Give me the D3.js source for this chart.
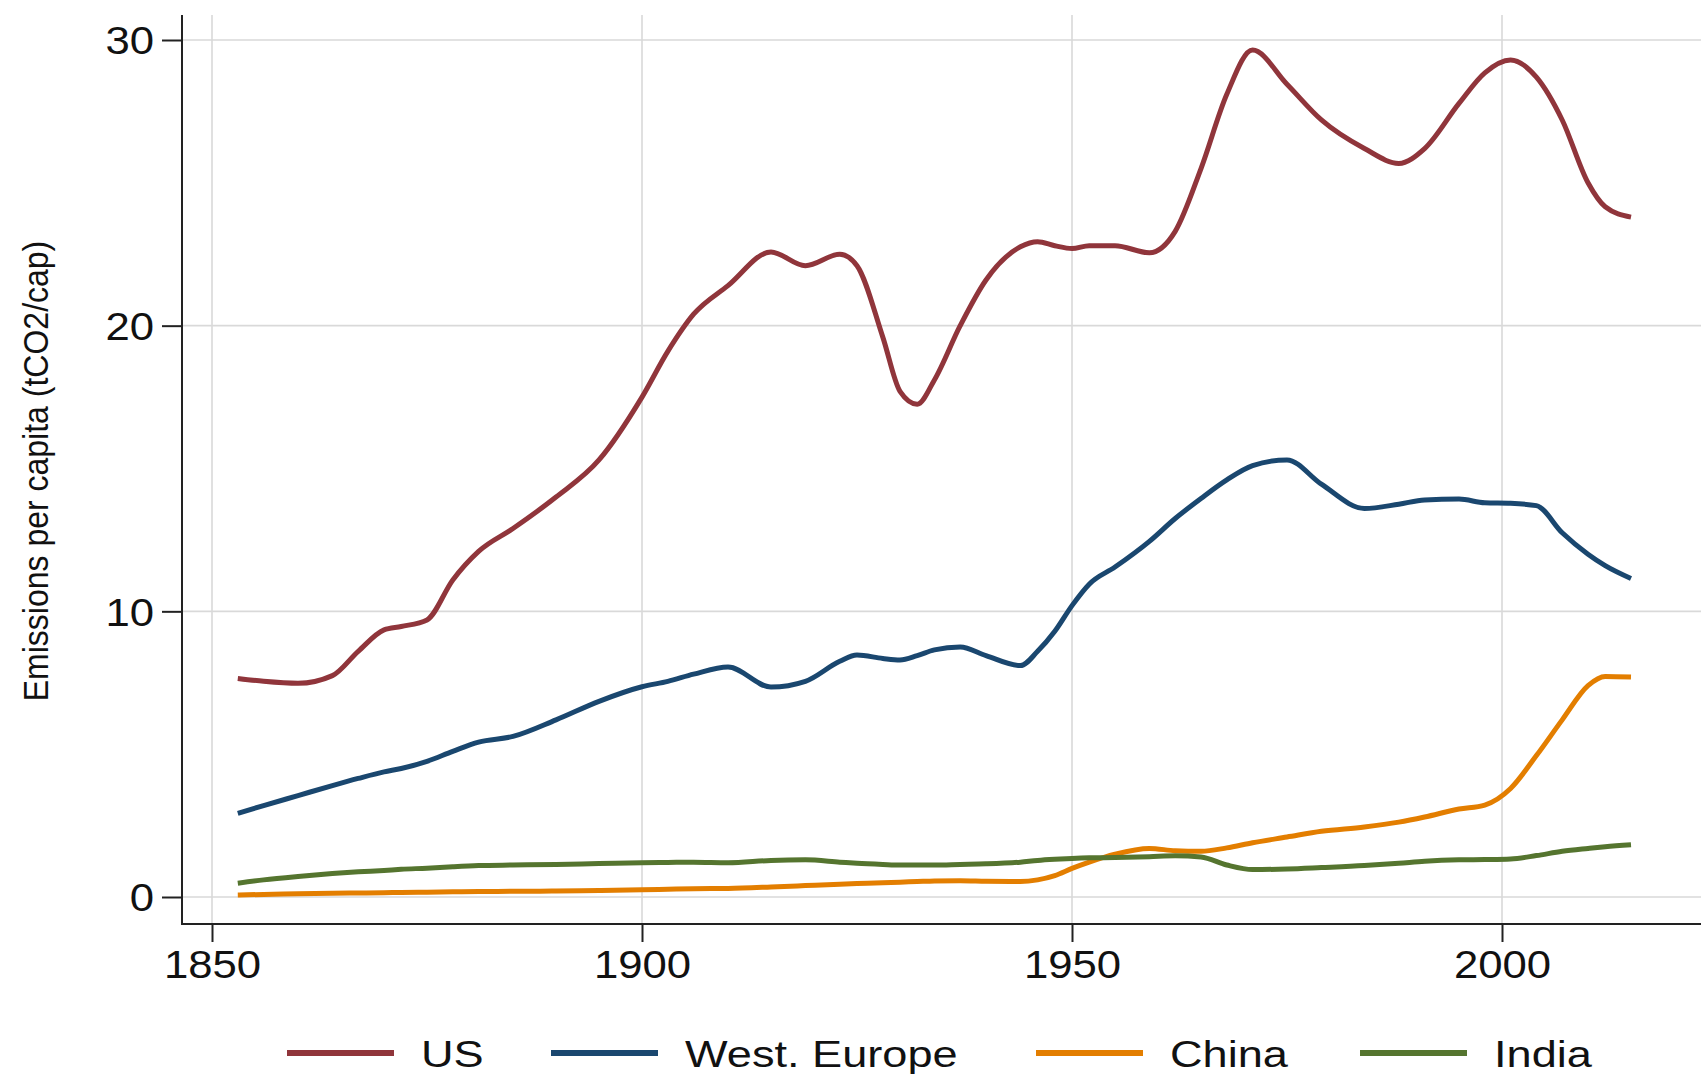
<!DOCTYPE html>
<html>
<head>
<meta charset="utf-8">
<script src="https://cdn.jsdelivr.net/npm/d3@7"></script>
<style>
  html, body { margin: 0; padding: 0; background: #fff; }
  svg { display: block; }
  text { font-family: "Liberation Sans", Arial, Helvetica, sans-serif; fill: #111; }
</style>
</head>
<body>
<svg id="chart" width="1701" height="1074"></svg>
<script>
// ---- data ----
const years = [1853, 1856, 1860, 1864, 1867, 1870, 1872, 1875, 1878, 1881, 1885, 1890, 1895, 1900, 1903, 1906, 1910, 1915, 1919, 1923, 1925, 1928, 1930, 1932, 1934, 1937, 1940, 1944, 1946, 1948, 1950, 1952, 1955, 1959, 1962, 1965, 1968, 1971, 1975, 1979, 1984, 1988, 1991, 1995, 1998, 2001, 2004, 2007, 2010, 2012, 2015];

const usValues = [7.65, 7.55, 7.48, 7.75, 8.6, 9.35, 9.47, 9.7, 11.1, 12.1, 12.9, 14.0, 15.3, 17.5, 19.1, 20.4, 21.4, 22.58, 22.1, 22.5, 22.1, 19.6, 17.7, 17.25, 18.1, 20.0, 21.6, 22.76, 22.94, 22.8, 22.7, 22.8, 22.8, 22.55, 23.3, 25.5, 28.1, 29.65, 28.45, 27.2, 26.2, 25.68, 26.2, 27.78, 28.85, 29.3, 28.7, 27.2, 25.0, 24.16, 23.8];

const westEuropeValues = [2.93, 3.2, 3.55, 3.9, 4.15, 4.38, 4.5, 4.75, 5.1, 5.42, 5.62, 6.2, 6.85, 7.36, 7.55, 7.8, 8.05, 7.35, 7.55, 8.25, 8.47, 8.35, 8.3, 8.45, 8.65, 8.75, 8.45, 8.1, 8.6, 9.3, 10.2, 10.95, 11.55, 12.45, 13.25, 13.95, 14.6, 15.1, 15.3, 14.45, 13.6, 13.75, 13.9, 13.93, 13.8, 13.78, 13.7, 12.75, 12.0, 11.6, 11.15];

const chinaValues = [0.07, 0.09, 0.11, 0.13, 0.14, 0.15, 0.16, 0.17, 0.18, 0.19, 0.2, 0.21, 0.23, 0.25, 0.27, 0.29, 0.3, 0.35, 0.4, 0.45, 0.47, 0.5, 0.52, 0.54, 0.56, 0.57, 0.55, 0.54, 0.6, 0.75, 1.0, 1.22, 1.5, 1.7, 1.62, 1.6, 1.72, 1.9, 2.1, 2.3, 2.45, 2.62, 2.8, 3.08, 3.22, 3.8, 4.95, 6.2, 7.4, 7.72, 7.7];

const indiaValues = [0.48, 0.6, 0.72, 0.82, 0.88, 0.93, 0.97, 1.01, 1.06, 1.1, 1.12, 1.14, 1.17, 1.2, 1.21, 1.22, 1.2, 1.28, 1.3, 1.22, 1.18, 1.14, 1.12, 1.12, 1.12, 1.14, 1.16, 1.22, 1.28, 1.32, 1.35, 1.37, 1.38, 1.41, 1.44, 1.4, 1.12, 0.96, 0.98, 1.03, 1.1, 1.18, 1.25, 1.3, 1.31, 1.33, 1.45, 1.6, 1.7, 1.76, 1.83];

const seriesNames = ["US", "West. Europe", "China", "India"];
const seriesColors = ["#90353B", "#1A476F", "#E37E00", "#55752F"];
const xTicks = [1850, 1900, 1950, 2000];
const yTicks = [0, 10, 20, 30];
const yTitle = "Emissions per capita (tCO2/cap)";

// ---- layout ----
const svg = d3.select("#chart");
const axisX0 = 182, axisXEnd = 1701, plotTop = 15, axisY = 924;
const x = d3.scaleLinear().domain([1850, 2000]).range([212, 1502]);
const y = d3.scaleLinear().domain([0, 30]).range([897, 40]);
const sx = 1.15; // horizontal stretch of glyphs in the reference

// gridlines
const grid = svg.append("g");
grid.selectAll("line.v").data(xTicks).enter().append("line")
  .attr("x1", d => x(d)).attr("x2", d => x(d))
  .attr("y1", plotTop).attr("y2", axisY)
  .attr("stroke", "#d9d9d9").attr("stroke-width", 1.6);
grid.selectAll("line.h").data(yTicks).enter().append("line")
  .attr("x1", axisX0).attr("x2", axisXEnd)
  .attr("y1", d => y(d)).attr("y2", d => y(d))
  .attr("stroke", "#d9d9d9").attr("stroke-width", 1.6);

// lines
const allSeries = [usValues, westEuropeValues, chinaValues, indiaValues];
const line = d3.line()
  .x((d, i) => x(years[i]))
  .y(d => y(d))
  .curve(d3.curveMonotoneX);

svg.append("g").selectAll("path").data(allSeries).enter().append("path")
  .attr("d", d => line(d))
  .attr("fill", "none")
  .attr("stroke", (d, i) => seriesColors[i])
  .attr("stroke-width", 5)
  .attr("stroke-linejoin", "round")
  .attr("stroke-linecap", "butt");

// axes
const yAxis = svg.append("g").attr("transform", `translate(${axisX0},0)`)
  .call(d3.axisLeft(y).tickValues(yTicks).tickSize(20).tickPadding(8).tickFormat(d3.format("d")));
yAxis.select(".domain").remove();
yAxis.selectAll(".tick line").attr("stroke", "#222").attr("stroke-width", 2);
yAxis.selectAll(".tick text")
  .attr("x", -28 / sx).attr("dy", "0.36em")
  .attr("transform", `scale(${sx},1)`)
  .style("font-size", "38px").attr("fill", "#111");

const xAxis = svg.append("g").attr("transform", `translate(0,${axisY})`)
  .call(d3.axisBottom(x).tickValues(xTicks).tickSize(18).tickPadding(8).tickFormat(d3.format("d")));
xAxis.select(".domain").remove();
xAxis.selectAll(".tick line").attr("stroke", "#222").attr("stroke-width", 2);
xAxis.selectAll(".tick text")
  .attr("y", 54).attr("dy", 0)
  .attr("transform", `scale(${sx},1)`)
  .style("font-size", "38px").attr("fill", "#111");

// axis lines
svg.append("line").attr("x1", axisX0).attr("x2", axisX0).attr("y1", plotTop).attr("y2", axisY + 1)
  .attr("stroke", "#222").attr("stroke-width", 2);
svg.append("line").attr("x1", axisX0 - 1).attr("x2", axisXEnd).attr("y1", axisY).attr("y2", axisY)
  .attr("stroke", "#222").attr("stroke-width", 2);

// y title
svg.append("text")
  .attr("transform", "translate(48,471) rotate(-90) scale(1,1.08)")
  .attr("text-anchor", "middle")
  .style("font-size", "32px")
  .text(yTitle);

// legend
const legendLineX = [287, 551, 1036, 1360];
const legend = svg.append("g");
const items = legend.selectAll("g").data(seriesNames).enter().append("g")
  .attr("transform", (d, i) => `translate(${legendLineX[i]},1053)`);
items.append("line").attr("x1", 0).attr("x2", 107).attr("y1", 0).attr("y2", 0)
  .attr("stroke", (d, i) => seriesColors[i]).attr("stroke-width", 6);
items.append("text")
  .attr("transform", "translate(134,14) scale(1.22,1)")
  .style("font-size", "37px")
  .text(d => d);
</script>
</body>
</html>
